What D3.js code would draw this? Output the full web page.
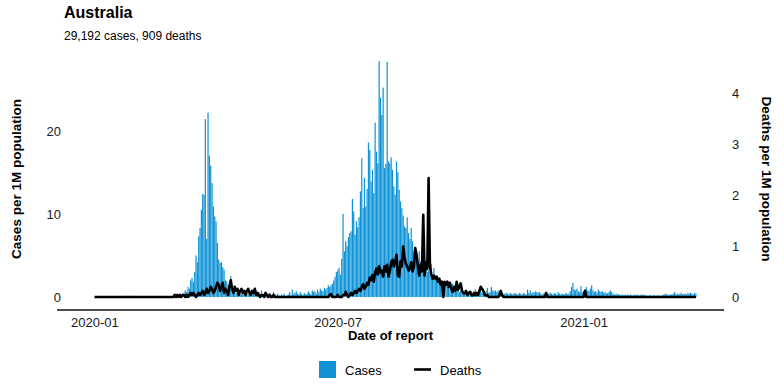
<!DOCTYPE html>
<html><head><meta charset="utf-8">
<script src="https://cdn.jsdelivr.net/npm/d3@7"></script>
<style>
html,body{margin:0;padding:0;background:#fff;}
svg{display:block;font-family:"Liberation Sans",Arial,Helvetica,sans-serif;}
</style></head>
<body>
<svg id="chart" width="784" height="392"></svg>
<script>
// ---------------- data ----------------
const title = "Australia";
const subtitle = "29,192 cases, 909 deaths";
const startDate = "2020-01-01"; // first day of the daily series
const xTickLabels = ["2020-01", "2020-07", "2021-01"];
const caseTicks = [0, 10, 20];
const deathTicks = [0, 1, 2, 3, 4];
const legendLabels = ["Cases", "Deaths"];

// daily cases per 1M population (from startDate)
const cases = [
0,0,0,0,0,0,0,0,0,0,
0,0,0,0,0,0,0,0,0,0,
0,0,0,0,0,0.16,0.04,0,0.04,0.08,
0.04,0,0.04,0,0,0,0,0,0,0,
0,0,0,0,0,0,0,0,0,0,
0,0.12,0,0,0,0.04,0.04,0.08,0.04,0.12,
0.1,0.1,0.2,0.2,0.3,0.2,0.4,0.5,0.8,0.6,
1.2,1.0,2.0,2.3,1.8,3.0,5.0,4.2,7.3,8.3,
10.5,12.4,12.3,21.4,7.0,22.2,17.0,15.8,13.7,10.9,
9.7,9.1,6.5,4.5,4.1,4.2,3.6,3.3,2.0,1.9,
1.5,1.2,2.5,1.4,0.9,0.8,0.5,0.7,0.4,0.3,
0.4,0.3,0.5,0.2,0.6,0.3,0.4,0.2,0.3,0.7,
0.4,0.5,0.3,0.6,0.4,0.8,0.3,0.2,0.4,0.3,
0.2,0.5,0.3,0.2,0.6,0.3,0.2,0.4,0.2,0.1,
0.3,0.2,0.4,0.1,0.2,0.3,0.6,0.2,0.9,0.3,
0.5,0.7,0.4,0.3,0.6,0.4,0.2,0.5,0.3,0.4,
0.7,0.5,0.3,0.8,0.6,0.7,0.4,0.9,0.6,1.0,
0.8,0.7,1.1,0.9,1.1,1.4,1.2,1.4,1.6,2.0,
2.4,3.0,3.2,3.5,2.7,4.6,10.0,5.5,6.7,6.1,
7.2,7.7,7.9,11.8,10.3,7.5,9.1,8.4,9.6,12.7,
16.7,10.7,14.3,10.9,13.0,18.6,17.7,13.9,15.3,12.5,
21.0,17.5,16.1,28.4,24.0,21.9,25.2,15.5,16.0,28.3,
16.3,16.1,16.8,15.3,13.3,12.3,16.3,15.0,12.9,11.5,
10.7,9.8,8.5,8.3,9.6,7.7,7.0,8.3,6.7,5.5,
5.9,5.1,4.5,5.5,4.3,4.0,3.6,4.1,3.8,3.0,
3.2,3.0,4.0,2.6,3.5,2.4,2.5,2.0,2.2,1.9,
1.8,1.5,1.3,1.8,1.2,1.4,1.1,1.0,1.6,0.9,
0.8,0.9,0.7,0.6,0.8,0.7,0.5,0.6,0.4,0.6,
0.6,0.5,0.7,0.4,0.6,0.9,0.5,0.6,0.7,0.8,
0.5,1.0,0.6,0.7,1.1,0.5,0.6,1.2,0.8,0.7,
0.8,0.6,0.8,0.5,0.4,0.5,0.3,0.4,0.5,0.4,
0.3,0.5,0.4,0.3,0.5,0.4,0.4,0.3,0.5,0.4,
0.3,0.5,0.4,0.3,0.9,0.5,0.8,0.4,0.6,0.5,
0.7,0.6,0.5,0.6,0.4,0.3,0.4,0.5,0.4,0.3,
0.4,0.5,0.4,0.3,0.5,0.4,0.3,0.6,0.4,0.3,
0.4,0.3,0.4,0.5,0.3,0.4,0.7,1.2,1.7,0.9,
0.8,1.0,0.7,0.6,1.3,0.6,0.7,0.9,1.2,0.8,
0.7,1.0,1.4,0.8,0.6,0.7,0.5,0.9,0.7,0.6,
0.7,0.5,0.6,0.4,0.5,0.6,0.8,0.6,0.4,0.3,
0.3,0.4,0.3,0.3,0.2,0.3,0.2,0.3,0.2,0.3,
0.2,0.3,0.2,0.2,0.3,0.2,0.3,0.2,0.2,0.3,
0.2,0.3,0.2,0.2,0.1,0.2,0.2,0.1,0.2,0.2,
0.1,0.2,0.2,0.1,0.2,0.2,0.3,0.4,0.3,0.3,
0.2,0.3,0.3,0.4,0.6,0.3,0.4,0.3,0.4,0.5,
0.3,0.4,0.4,0.3,0.5,0.4,0.5,0.4,0.3,0.5,
0.4
];

// daily deaths per 1M population (from startDate)
const deaths = [
0,0,0,0,0,0,0,0,0,0,
0,0,0,0,0,0,0,0,0,0,
0,0,0,0,0,0,0,0,0,0,
0,0,0,0,0,0,0,0,0,0,
0,0,0,0,0,0,0,0,0,0,
0,0,0,0,0,0,0,0,0,0,
0.04,0,0.04,0,0.04,0,0.04,0.04,0,0.04,
0,0.04,0.08,0.04,0.08,0.04,0,0.04,0.08,0.04,
0.08,0.12,0.04,0.08,0.16,0.08,0.12,0.2,0.16,0.08,
0.12,0.2,0.28,0.24,0.12,0.2,0.28,0.08,0.16,0.12,
0.04,0.2,0.33,0.16,0.08,0.2,0.12,0.16,0.04,0.12,
0.16,0.08,0.12,0.04,0.12,0.16,0.08,0.04,0.12,0.08,
0.16,0.04,0.08,0.04,0,0.04,0.04,0,0.08,0.04,
0,0.04,0,0,0.04,0,0,0,0,0,
0,0,0,0,0,0,0,0,0,0,
0,0,0,0,0,0,0,0,0,0,
0,0,0,0,0,0,0,0,0,0,
0,0,0,0,0,0,0.04,0.06,0,0,
0,0,0.04,0,0,0,0.04,0.04,0.1,0.04,
0,0.04,0.08,0.04,0.08,0.12,0.08,0.12,0.16,0.12,
0.2,0.25,0.16,0.2,0.28,0.24,0.38,0.33,0.43,0.3,
0.48,0.56,0.44,0.6,0.48,0.52,0.4,0.6,0.5,0.63,
0.4,0.5,0.68,0.73,0.6,0.7,0.83,0.42,0.4,0.7,
0.6,0.99,0.78,0.65,0.6,0.52,0.56,0.68,0.5,0.6,
0.96,0.83,0.6,0.42,0.63,0.5,1.61,0.42,0.68,0.55,
2.33,0.6,0.45,0.36,0.42,0.36,0.4,0.3,0.36,0.24,
0.3,0,0.3,0.24,0.3,0.2,0.28,0.16,0.1,0.2,
0.12,0.3,0.14,0.2,0.27,0.12,0.08,0.07,0.12,0.04,
0.08,0.1,0.04,0.03,0.08,0.04,0.08,0.04,0.12,0.2,
0.16,0.12,0.04,0.03,0.04,0,0,0,0,0,
0,0,0,0.04,0.12,0.04,0,0,0,0,
0,0,0,0,0,0,0,0,0,0,
0,0,0,0,0,0,0,0,0,0,
0,0,0,0,0,0,0,0,0.08,0,
0,0,0,0,0,0,0,0,0,0,
0,0,0,0,0,0,0,0,0,0,
0,0,0,0,0,0,0,0.12,0,0,
0,0,0,0,0,0,0,0,0,0,
0,0,0,0,0,0,0,0,0,0,
0,0,0,0,0,0,0,0,0,0,
0,0,0,0,0,0,0,0,0,0,
0,0,0,0,0,0,0,0,0,0,
0,0,0,0,0,0,0,0,0,0,
0,0,0,0,0,0,0,0,0,0,
0,0,0,0,0,0,0,0,0,0,
0,0,0,0,0,0,0,0,0,0,
0
];

// ---------------- drawing ----------------
const svg = d3.select("#chart");
const parse = d3.utcParse("%Y-%m-%d");
const t0 = parse(startDate);
const dates = cases.map((_, i) => d3.utcDay.offset(t0, i));

const x = d3.scaleUtc()
  .domain([parse("2019-12-04"), parse("2021-04-16")])
  .range([57, 724]);
const yC = d3.scaleLinear().domain([0, 28.4]).range([297, 61]);
const yD = d3.scaleLinear().domain([0, 4]).range([297, 93]);

const dayW = x(d3.utcDay.offset(t0, 1)) - x(t0);
const barW = dayW * 0.9;
const blue = "#0f93d6";

// bars
svg.append("g").selectAll("rect").data(cases).join("rect")
  .attr("x", (d, i) => x(dates[i]) - barW / 2)
  .attr("width", barW)
  .attr("y", d => yC(d))
  .attr("height", d => yC(0) - yC(d))
  .attr("fill", blue);

// deaths line
svg.append("path")
  .datum(deaths)
  .attr("fill", "none")
  .attr("stroke", "#000")
  .attr("stroke-width", 2.6)
  .attr("stroke-linejoin", "round")
  .attr("d", d3.line().x((d, i) => x(dates[i])).y(d => yD(d)));

// x axis
const xAxis = d3.axisBottom(x)
  .tickValues(xTickLabels.map(s => parse(s + "-01")))
  .tickFormat(d3.utcFormat("%Y-%m"))
  .tickSize(0).tickPadding(0);
const gx = svg.append("g").attr("transform", "translate(0,310)").call(xAxis);
gx.select(".domain").remove();
gx.selectAll("text").attr("y", 17).attr("dy", 0)
  .attr("font-size", 13).attr("fill", "#1a1a1a").attr("font-family", null);
svg.append("line").attr("x1", 57).attr("x2", 724).attr("y1", 310).attr("y2", 310)
  .attr("stroke", "#4d4d4d").attr("stroke-width", 2);

// left axis
const gl = svg.append("g").attr("transform", "translate(61,0)")
  .call(d3.axisLeft(yC).tickValues(caseTicks).tickFormat(d3.format("d")).tickSize(0).tickPadding(0));
gl.select(".domain").remove();
gl.selectAll("text").attr("x", 0).attr("dy", "0.35em")
  .attr("font-size", 13).attr("fill", "#1a1a1a").attr("font-family", null);

// right axis
const gr = svg.append("g").attr("transform", "translate(732,0)")
  .call(d3.axisRight(yD).tickValues(deathTicks).tickFormat(d3.format("d")).tickSize(0).tickPadding(0));
gr.select(".domain").remove();
gr.selectAll("text").attr("x", 0).attr("dy", "0.35em")
  .attr("font-size", 13).attr("fill", "#1a1a1a").attr("font-family", null);

// axis titles
svg.append("text").attr("x", 390.5).attr("y", 340).attr("text-anchor", "middle")
  .attr("font-size", 13).attr("font-weight", "bold").text("Date of report");
svg.append("text").attr("transform", "translate(21,179) rotate(-90)")
  .attr("text-anchor", "middle").attr("font-size", 13.5).attr("font-weight", "bold")
  .text("Cases per 1M population");
svg.append("text").attr("transform", "translate(762,179) rotate(90)")
  .attr("text-anchor", "middle").attr("font-size", 13.5).attr("font-weight", "bold")
  .text("Deaths per 1M population");

// title
svg.append("text").attr("x", 64).attr("y", 18).attr("font-size", 16)
  .attr("font-weight", "bold").text(title);
svg.append("text").attr("x", 64).attr("y", 40).attr("font-size", 12).text(subtitle);

// legend
const lg = svg.append("g");
lg.append("rect").attr("x", 319).attr("y", 361).attr("width", 17).attr("height", 17).attr("fill", blue);
lg.append("text").attr("x", 345).attr("y", 375).attr("font-size", 13).text(legendLabels[0]);
lg.append("line").attr("x1", 414).attr("x2", 431).attr("y1", 369.5).attr("y2", 369.5)
  .attr("stroke", "#000").attr("stroke-width", 2.6);
lg.append("text").attr("x", 440).attr("y", 375).attr("font-size", 13).text(legendLabels[1]);
</script>
</body></html>
